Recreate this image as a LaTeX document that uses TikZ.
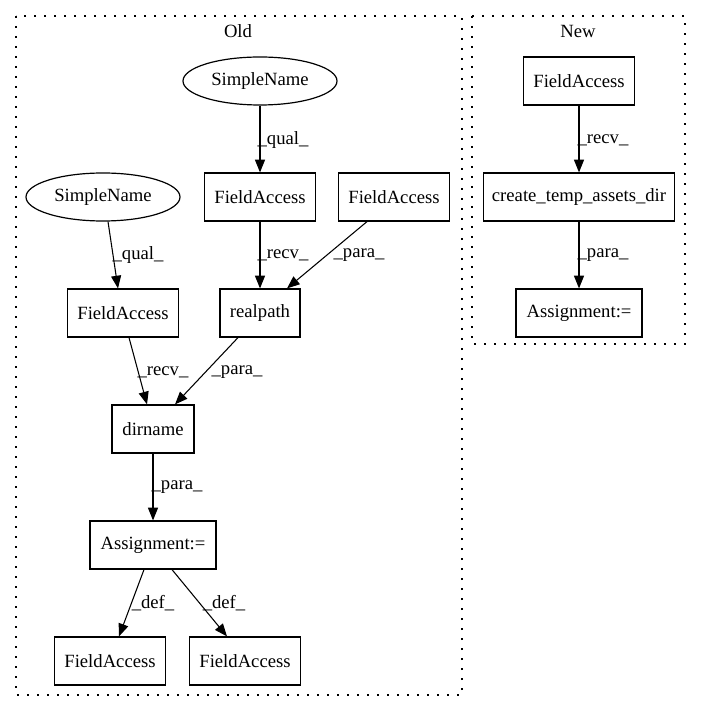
\documentclass[tikz,border=0pt]{standalone}
\usepackage{fontspec}
\setmainfont{Liberation Serif}
\usetikzlibrary{shapes.geometric,arrows.meta}
\begin{document}
\begin{tikzpicture}[x=0.75pt,y=-0.75pt,
  every node/.style={font=\fontsize{14pt}{16pt}\selectfont},
  box/.style={draw,line width=0.9pt,rectangle,inner sep=0pt,minimum height=36pt},
  ell/.style={draw,line width=0.9pt,ellipse,inner sep=0pt,minimum height=36pt,minimum width=115.5pt},
  cluster/.style={draw,line width=0.8pt,dash pattern=on 1.2pt off 6.3pt},
  edge/.style={draw,line width=0.8pt,-{Triangle[length=9.5pt,width=7.5pt]}},
  lbl/.style={inner sep=0pt}]
\path[use as bounding box] (0,0) rectangle (701,712);
% clusters
\draw[cluster] (16,16) rectangle (462,695);
\draw[cluster] (472,16) rectangle (685,344);
\node (old) at (238,31) {Old};
\node (new) at (578,31) {New};
% old nodes
\node[ell] (sn1) at (260,81) {SimpleName};
\node[ell] (sn2) at (103,197) {SimpleName};
\node[box,minimum width=83.25pt] (fa1) at (260,197) {FieldAccess};
\node[box,minimum width=83.25pt] (fa3) at (394,197) {FieldAccess};
\node[box,minimum width=83.25pt] (fa2) at (123,313) {FieldAccess};
\node[box,minimum width=60pt] (rp) at (260,313) {realpath};
\node[box,minimum width=61.5pt] (dn) at (153,429) {dirname};
\node[box,minimum width=94.5pt] (as1) at (153,545) {Assignment:=};
\node[box,minimum width=83.25pt] (fa4) at (110,661) {FieldAccess};
\node[box,minimum width=83.25pt] (fa5) at (245,661) {FieldAccess};
% new nodes
\node[box,minimum width=83.25pt] (nfa) at (579,81) {FieldAccess};
\node[box,minimum width=143.25pt] (ct) at (579,197) {create\_temp\_assets\_dir};
\node[box,minimum width=94.5pt] (as2) at (579,313) {Assignment:=};
% old edges
\draw[edge] (sn1.south) -- (fa1.north);
\node[lbl] (l1) at (283,140) {\_qual\_};
\draw[edge] ([xshift=3.75pt]sn2.south) -- ([xshift=-3.75pt]fa2.north);
\node[lbl] (l2) at (138,255) {\_qual\_};
\draw[edge] (fa1.south) -- (rp.north);
\node[lbl] (l3) at (283,255) {\_recv\_};
\draw[edge] ([xshift=-20.25pt]fa3.south) -- ([xshift=20.25pt]rp.north);
\node[lbl] (l4) at (359,255) {\_para\_};
\draw[edge] ([xshift=4.5pt]fa2.south) -- ([xshift=-4.5pt]dn.north);
\node[lbl] (l5) at (163,372) {\_recv\_};
\draw[edge] ([xshift=-16.5pt]rp.south) -- ([xshift=16.5pt]dn.north);
\node[lbl] (l6) at (237,372) {\_para\_};
\draw[edge] (dn.south) -- (as1.north);
\node[lbl] (l7) at (177,487) {\_para\_};
\draw[edge] ([xshift=-6.75pt]as1.south) -- ([xshift=6.75pt]fa4.north);
\node[lbl] (l8) at (153,603) {\_def\_};
\draw[edge] ([xshift=14.25pt]as1.south) -- ([xshift=-13.5pt]fa5.north);
\node[lbl] (l9) at (224,603) {\_def\_};
% new edges
\draw[edge] (nfa.south) -- (ct.north);
\node[lbl] (l10) at (603,140) {\_recv\_};
\draw[edge] (ct.south) -- (as2.north);
\node[lbl] (l11) at (603,255) {\_para\_};
\end{tikzpicture}
\end{document}
